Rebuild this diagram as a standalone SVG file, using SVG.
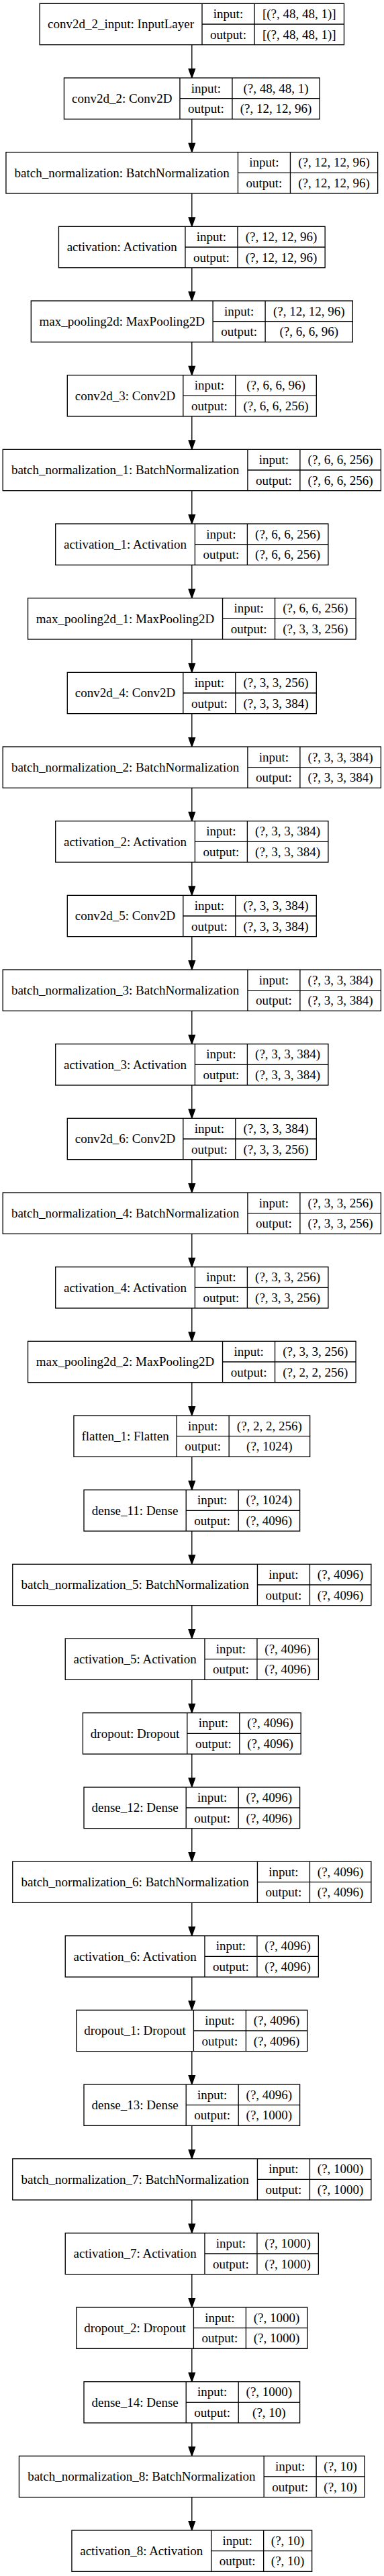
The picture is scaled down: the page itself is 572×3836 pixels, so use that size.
<svg xmlns="http://www.w3.org/2000/svg" width="572" height="3836" viewBox="0 0 572 3836">
<style>
.nd rect{fill:#fff;stroke:#000;stroke-width:1.33}
.nd path{fill:none;stroke:#000;stroke-width:1.33}
text{font-family:"Liberation Serif","Times New Roman",serif;font-size:19px;text-anchor:middle;fill:#000}
.e path{fill:none;stroke:#000;stroke-width:1.33}
</style>
<defs>
<marker id="ah" markerUnits="userSpaceOnUse" markerWidth="16" markerHeight="12" refX="0" refY="5" orient="auto" overflow="visible">
<path d="M0,0.33 L13.33,5 L0,9.67 z" fill="#000" stroke="#000" stroke-width="1.33"/>
</marker>
</defs>
<rect width="572" height="3836" fill="#fff"/>
<g id="edges" class="e">
<path d="M285.8,66.67V102.67" marker-end="url(#ah)"/>
<path d="M285.8,177.33V213.33" marker-end="url(#ah)"/>
<path d="M285.8,288V324" marker-end="url(#ah)"/>
<path d="M285.8,398.67V434.67" marker-end="url(#ah)"/>
<path d="M285.8,509.33V545.33" marker-end="url(#ah)"/>
<path d="M285.8,620V656" marker-end="url(#ah)"/>
<path d="M285.8,730.67V766.67" marker-end="url(#ah)"/>
<path d="M285.8,841.33V877.33" marker-end="url(#ah)"/>
<path d="M285.8,952V988" marker-end="url(#ah)"/>
<path d="M285.8,1062.67V1098.67" marker-end="url(#ah)"/>
<path d="M285.8,1173.33V1209.33" marker-end="url(#ah)"/>
<path d="M285.8,1284V1320" marker-end="url(#ah)"/>
<path d="M285.8,1394.67V1430.67" marker-end="url(#ah)"/>
<path d="M285.8,1505.33V1541.33" marker-end="url(#ah)"/>
<path d="M285.8,1616V1652" marker-end="url(#ah)"/>
<path d="M285.8,1726.67V1762.67" marker-end="url(#ah)"/>
<path d="M285.8,1837.33V1873.33" marker-end="url(#ah)"/>
<path d="M285.8,1948V1984" marker-end="url(#ah)"/>
<path d="M285.8,2058.67V2094.67" marker-end="url(#ah)"/>
<path d="M285.8,2169.33V2205.33" marker-end="url(#ah)"/>
<path d="M285.8,2280V2316" marker-end="url(#ah)"/>
<path d="M285.8,2390.67V2426.67" marker-end="url(#ah)"/>
<path d="M285.8,2501.33V2537.33" marker-end="url(#ah)"/>
<path d="M285.8,2612V2648" marker-end="url(#ah)"/>
<path d="M285.8,2722.67V2758.67" marker-end="url(#ah)"/>
<path d="M285.8,2833.33V2869.33" marker-end="url(#ah)"/>
<path d="M285.8,2944V2980" marker-end="url(#ah)"/>
<path d="M285.8,3054.67V3090.67" marker-end="url(#ah)"/>
<path d="M285.8,3165.33V3201.33" marker-end="url(#ah)"/>
<path d="M285.8,3276V3312" marker-end="url(#ah)"/>
<path d="M285.8,3386.67V3422.67" marker-end="url(#ah)"/>
<path d="M285.8,3497.33V3533.33" marker-end="url(#ah)"/>
<path d="M285.8,3608V3644" marker-end="url(#ah)"/>
<path d="M285.8,3718.67V3754.67" marker-end="url(#ah)"/>
</g>

<g id="conv2d_2_input" class="nd" transform="translate(0,5.33)">
<rect x="59.1" y="0" width="453.4" height="61.33"/>
<path d="M301,0V61.33M379,0V61.33M301,30.67H512.5"/>
<text x="180.05" y="37">conv2d_2_input: InputLayer</text>
<text x="340" y="21.6">input:</text><text x="340" y="52.3">output:</text>
<text x="445.75" y="21.6">[(?, 48, 48, 1)]</text><text x="445.75" y="52.3">[(?, 48, 48, 1)]</text>
</g>

<g id="conv2d_2" class="nd" transform="translate(0,116)">
<rect x="95.45" y="0" width="380.7" height="61.33"/>
<path d="M267.95,0V61.33M345.95,0V61.33M267.95,30.67H476.15"/>
<text x="181.7" y="37">conv2d_2: Conv2D</text>
<text x="306.95" y="21.6">input:</text><text x="306.95" y="52.3">output:</text>
<text x="411.05" y="21.6">(?, 48, 48, 1)</text><text x="411.05" y="52.3">(?, 12, 12, 96)</text>
</g>

<g id="batch_normalization" class="nd" transform="translate(0,226.67)">
<rect x="8.95" y="0" width="553.7" height="61.33"/>
<path d="M354.45,0V61.33M432.45,0V61.33M354.45,30.67H562.65"/>
<text x="181.7" y="37">batch_normalization: BatchNormalization</text>
<text x="393.45" y="21.6">input:</text><text x="393.45" y="52.3">output:</text>
<text x="497.55" y="21.6">(?, 12, 12, 96)</text><text x="497.55" y="52.3">(?, 12, 12, 96)</text>
</g>

<g id="activation" class="nd" transform="translate(0,337.33)">
<rect x="87.45" y="0" width="396.7" height="61.33"/>
<path d="M275.95,0V61.33M353.95,0V61.33M275.95,30.67H484.15"/>
<text x="181.7" y="37">activation: Activation</text>
<text x="314.95" y="21.6">input:</text><text x="314.95" y="52.3">output:</text>
<text x="419.05" y="21.6">(?, 12, 12, 96)</text><text x="419.05" y="52.3">(?, 12, 12, 96)</text>
</g>

<g id="max_pooling2d" class="nd" transform="translate(0,448)">
<rect x="46.3" y="0" width="479" height="61.33"/>
<path d="M317.1,0V61.33M395.1,0V61.33M317.1,30.67H525.3"/>
<text x="181.7" y="37">max_pooling2d: MaxPooling2D</text>
<text x="356.1" y="21.6">input:</text><text x="356.1" y="52.3">output:</text>
<text x="460.2" y="21.6">(?, 12, 12, 96)</text><text x="460.2" y="52.3">(?, 6, 6, 96)</text>
</g>

<g id="conv2d_3" class="nd" transform="translate(0,558.67)">
<rect x="100.3" y="0" width="371" height="61.33"/>
<path d="M272.8,0V61.33M350.8,0V61.33M272.8,30.67H471.3"/>
<text x="186.55" y="37">conv2d_3: Conv2D</text>
<text x="311.8" y="21.6">input:</text><text x="311.8" y="52.3">output:</text>
<text x="411.05" y="21.6">(?, 6, 6, 96)</text><text x="411.05" y="52.3">(?, 6, 6, 256)</text>
</g>

<g id="batch_normalization_1" class="nd" transform="translate(0,669.33)">
<rect x="4.2" y="0" width="563.2" height="61.33"/>
<path d="M368.9,0V61.33M446.9,0V61.33M368.9,30.67H567.4"/>
<text x="186.55" y="37">batch_normalization_1: BatchNormalization</text>
<text x="407.9" y="21.6">input:</text><text x="407.9" y="52.3">output:</text>
<text x="507.15" y="21.6">(?, 6, 6, 256)</text><text x="507.15" y="52.3">(?, 6, 6, 256)</text>
</g>

<g id="activation_1" class="nd" transform="translate(0,780)">
<rect x="82.7" y="0" width="406.2" height="61.33"/>
<path d="M290.4,0V61.33M368.4,0V61.33M290.4,30.67H488.9"/>
<text x="186.55" y="37">activation_1: Activation</text>
<text x="329.4" y="21.6">input:</text><text x="329.4" y="52.3">output:</text>
<text x="428.65" y="21.6">(?, 6, 6, 256)</text><text x="428.65" y="52.3">(?, 6, 6, 256)</text>
</g>

<g id="max_pooling2d_1" class="nd" transform="translate(0,890.67)">
<rect x="41.55" y="0" width="488.5" height="61.33"/>
<path d="M331.55,0V61.33M409.55,0V61.33M331.55,30.67H530.05"/>
<text x="186.55" y="37">max_pooling2d_1: MaxPooling2D</text>
<text x="370.55" y="21.6">input:</text><text x="370.55" y="52.3">output:</text>
<text x="469.8" y="21.6">(?, 6, 6, 256)</text><text x="469.8" y="52.3">(?, 3, 3, 256)</text>
</g>

<g id="conv2d_4" class="nd" transform="translate(0,1001.33)">
<rect x="100.3" y="0" width="371" height="61.33"/>
<path d="M272.8,0V61.33M350.8,0V61.33M272.8,30.67H471.3"/>
<text x="186.55" y="37">conv2d_4: Conv2D</text>
<text x="311.8" y="21.6">input:</text><text x="311.8" y="52.3">output:</text>
<text x="411.05" y="21.6">(?, 3, 3, 256)</text><text x="411.05" y="52.3">(?, 3, 3, 384)</text>
</g>

<g id="batch_normalization_2" class="nd" transform="translate(0,1112)">
<rect x="4.2" y="0" width="563.2" height="61.33"/>
<path d="M368.9,0V61.33M446.9,0V61.33M368.9,30.67H567.4"/>
<text x="186.55" y="37">batch_normalization_2: BatchNormalization</text>
<text x="407.9" y="21.6">input:</text><text x="407.9" y="52.3">output:</text>
<text x="507.15" y="21.6">(?, 3, 3, 384)</text><text x="507.15" y="52.3">(?, 3, 3, 384)</text>
</g>

<g id="activation_2" class="nd" transform="translate(0,1222.67)">
<rect x="82.7" y="0" width="406.2" height="61.33"/>
<path d="M290.4,0V61.33M368.4,0V61.33M290.4,30.67H488.9"/>
<text x="186.55" y="37">activation_2: Activation</text>
<text x="329.4" y="21.6">input:</text><text x="329.4" y="52.3">output:</text>
<text x="428.65" y="21.6">(?, 3, 3, 384)</text><text x="428.65" y="52.3">(?, 3, 3, 384)</text>
</g>

<g id="conv2d_5" class="nd" transform="translate(0,1333.33)">
<rect x="100.3" y="0" width="371" height="61.33"/>
<path d="M272.8,0V61.33M350.8,0V61.33M272.8,30.67H471.3"/>
<text x="186.55" y="37">conv2d_5: Conv2D</text>
<text x="311.8" y="21.6">input:</text><text x="311.8" y="52.3">output:</text>
<text x="411.05" y="21.6">(?, 3, 3, 384)</text><text x="411.05" y="52.3">(?, 3, 3, 384)</text>
</g>

<g id="batch_normalization_3" class="nd" transform="translate(0,1444)">
<rect x="4.2" y="0" width="563.2" height="61.33"/>
<path d="M368.9,0V61.33M446.9,0V61.33M368.9,30.67H567.4"/>
<text x="186.55" y="37">batch_normalization_3: BatchNormalization</text>
<text x="407.9" y="21.6">input:</text><text x="407.9" y="52.3">output:</text>
<text x="507.15" y="21.6">(?, 3, 3, 384)</text><text x="507.15" y="52.3">(?, 3, 3, 384)</text>
</g>

<g id="activation_3" class="nd" transform="translate(0,1554.67)">
<rect x="82.7" y="0" width="406.2" height="61.33"/>
<path d="M290.4,0V61.33M368.4,0V61.33M290.4,30.67H488.9"/>
<text x="186.55" y="37">activation_3: Activation</text>
<text x="329.4" y="21.6">input:</text><text x="329.4" y="52.3">output:</text>
<text x="428.65" y="21.6">(?, 3, 3, 384)</text><text x="428.65" y="52.3">(?, 3, 3, 384)</text>
</g>

<g id="conv2d_6" class="nd" transform="translate(0,1665.33)">
<rect x="100.3" y="0" width="371" height="61.33"/>
<path d="M272.8,0V61.33M350.8,0V61.33M272.8,30.67H471.3"/>
<text x="186.55" y="37">conv2d_6: Conv2D</text>
<text x="311.8" y="21.6">input:</text><text x="311.8" y="52.3">output:</text>
<text x="411.05" y="21.6">(?, 3, 3, 384)</text><text x="411.05" y="52.3">(?, 3, 3, 256)</text>
</g>

<g id="batch_normalization_4" class="nd" transform="translate(0,1776)">
<rect x="4.2" y="0" width="563.2" height="61.33"/>
<path d="M368.9,0V61.33M446.9,0V61.33M368.9,30.67H567.4"/>
<text x="186.55" y="37">batch_normalization_4: BatchNormalization</text>
<text x="407.9" y="21.6">input:</text><text x="407.9" y="52.3">output:</text>
<text x="507.15" y="21.6">(?, 3, 3, 256)</text><text x="507.15" y="52.3">(?, 3, 3, 256)</text>
</g>

<g id="activation_4" class="nd" transform="translate(0,1886.67)">
<rect x="82.7" y="0" width="406.2" height="61.33"/>
<path d="M290.4,0V61.33M368.4,0V61.33M290.4,30.67H488.9"/>
<text x="186.55" y="37">activation_4: Activation</text>
<text x="329.4" y="21.6">input:</text><text x="329.4" y="52.3">output:</text>
<text x="428.65" y="21.6">(?, 3, 3, 256)</text><text x="428.65" y="52.3">(?, 3, 3, 256)</text>
</g>

<g id="max_pooling2d_2" class="nd" transform="translate(0,1997.33)">
<rect x="41.55" y="0" width="488.5" height="61.33"/>
<path d="M331.55,0V61.33M409.55,0V61.33M331.55,30.67H530.05"/>
<text x="186.55" y="37">max_pooling2d_2: MaxPooling2D</text>
<text x="370.55" y="21.6">input:</text><text x="370.55" y="52.3">output:</text>
<text x="469.8" y="21.6">(?, 3, 3, 256)</text><text x="469.8" y="52.3">(?, 2, 2, 256)</text>
</g>

<g id="flatten_1" class="nd" transform="translate(0,2108)">
<rect x="109.95" y="0" width="351.7" height="61.33"/>
<path d="M263.15,0V61.33M341.15,0V61.33M263.15,30.67H461.65"/>
<text x="186.55" y="37">flatten_1: Flatten</text>
<text x="302.15" y="21.6">input:</text><text x="302.15" y="52.3">output:</text>
<text x="401.4" y="21.6">(?, 2, 2, 256)</text><text x="401.4" y="52.3">(?, 1024)</text>
</g>

<g id="dense_11" class="nd" transform="translate(0,2218.67)">
<rect x="125" y="0" width="321.6" height="61.33"/>
<path d="M277.2,0V61.33M355.2,0V61.33M277.2,30.67H446.6"/>
<text x="201.1" y="37">dense_11: Dense</text>
<text x="316.2" y="21.6">input:</text><text x="316.2" y="52.3">output:</text>
<text x="400.9" y="21.6">(?, 1024)</text><text x="400.9" y="52.3">(?, 4096)</text>
</g>

<g id="batch_normalization_5" class="nd" transform="translate(0,2329.33)">
<rect x="18.75" y="0" width="534.1" height="61.33"/>
<path d="M383.45,0V61.33M461.45,0V61.33M383.45,30.67H552.85"/>
<text x="201.1" y="37">batch_normalization_5: BatchNormalization</text>
<text x="422.45" y="21.6">input:</text><text x="422.45" y="52.3">output:</text>
<text x="507.15" y="21.6">(?, 4096)</text><text x="507.15" y="52.3">(?, 4096)</text>
</g>

<g id="activation_5" class="nd" transform="translate(0,2440)">
<rect x="97.25" y="0" width="377.1" height="61.33"/>
<path d="M304.95,0V61.33M382.95,0V61.33M304.95,30.67H474.35"/>
<text x="201.1" y="37">activation_5: Activation</text>
<text x="343.95" y="21.6">input:</text><text x="343.95" y="52.3">output:</text>
<text x="428.65" y="21.6">(?, 4096)</text><text x="428.65" y="52.3">(?, 4096)</text>
</g>

<g id="dropout" class="nd" transform="translate(0,2550.67)">
<rect x="123.4" y="0" width="324.8" height="61.33"/>
<path d="M278.8,0V61.33M356.8,0V61.33M278.8,30.67H448.2"/>
<text x="201.1" y="37">dropout: Dropout</text>
<text x="317.8" y="21.6">input:</text><text x="317.8" y="52.3">output:</text>
<text x="402.5" y="21.6">(?, 4096)</text><text x="402.5" y="52.3">(?, 4096)</text>
</g>

<g id="dense_12" class="nd" transform="translate(0,2661.33)">
<rect x="125" y="0" width="321.6" height="61.33"/>
<path d="M277.2,0V61.33M355.2,0V61.33M277.2,30.67H446.6"/>
<text x="201.1" y="37">dense_12: Dense</text>
<text x="316.2" y="21.6">input:</text><text x="316.2" y="52.3">output:</text>
<text x="400.9" y="21.6">(?, 4096)</text><text x="400.9" y="52.3">(?, 4096)</text>
</g>

<g id="batch_normalization_6" class="nd" transform="translate(0,2772)">
<rect x="18.75" y="0" width="534.1" height="61.33"/>
<path d="M383.45,0V61.33M461.45,0V61.33M383.45,30.67H552.85"/>
<text x="201.1" y="37">batch_normalization_6: BatchNormalization</text>
<text x="422.45" y="21.6">input:</text><text x="422.45" y="52.3">output:</text>
<text x="507.15" y="21.6">(?, 4096)</text><text x="507.15" y="52.3">(?, 4096)</text>
</g>

<g id="activation_6" class="nd" transform="translate(0,2882.67)">
<rect x="97.25" y="0" width="377.1" height="61.33"/>
<path d="M304.95,0V61.33M382.95,0V61.33M304.95,30.67H474.35"/>
<text x="201.1" y="37">activation_6: Activation</text>
<text x="343.95" y="21.6">input:</text><text x="343.95" y="52.3">output:</text>
<text x="428.65" y="21.6">(?, 4096)</text><text x="428.65" y="52.3">(?, 4096)</text>
</g>

<g id="dropout_1" class="nd" transform="translate(0,2993.33)">
<rect x="113.8" y="0" width="344" height="61.33"/>
<path d="M288.4,0V61.33M366.4,0V61.33M288.4,30.67H457.8"/>
<text x="201.1" y="37">dropout_1: Dropout</text>
<text x="327.4" y="21.6">input:</text><text x="327.4" y="52.3">output:</text>
<text x="412.1" y="21.6">(?, 4096)</text><text x="412.1" y="52.3">(?, 4096)</text>
</g>

<g id="dense_13" class="nd" transform="translate(0,3104)">
<rect x="125" y="0" width="321.6" height="61.33"/>
<path d="M277.2,0V61.33M355.2,0V61.33M277.2,30.67H446.6"/>
<text x="201.1" y="37">dense_13: Dense</text>
<text x="316.2" y="21.6">input:</text><text x="316.2" y="52.3">output:</text>
<text x="400.9" y="21.6">(?, 4096)</text><text x="400.9" y="52.3">(?, 1000)</text>
</g>

<g id="batch_normalization_7" class="nd" transform="translate(0,3214.67)">
<rect x="18.75" y="0" width="534.1" height="61.33"/>
<path d="M383.45,0V61.33M461.45,0V61.33M383.45,30.67H552.85"/>
<text x="201.1" y="37">batch_normalization_7: BatchNormalization</text>
<text x="422.45" y="21.6">input:</text><text x="422.45" y="52.3">output:</text>
<text x="507.15" y="21.6">(?, 1000)</text><text x="507.15" y="52.3">(?, 1000)</text>
</g>

<g id="activation_7" class="nd" transform="translate(0,3325.33)">
<rect x="97.25" y="0" width="377.1" height="61.33"/>
<path d="M304.95,0V61.33M382.95,0V61.33M304.95,30.67H474.35"/>
<text x="201.1" y="37">activation_7: Activation</text>
<text x="343.95" y="21.6">input:</text><text x="343.95" y="52.3">output:</text>
<text x="428.65" y="21.6">(?, 1000)</text><text x="428.65" y="52.3">(?, 1000)</text>
</g>

<g id="dropout_2" class="nd" transform="translate(0,3436)">
<rect x="113.8" y="0" width="344" height="61.33"/>
<path d="M288.4,0V61.33M366.4,0V61.33M288.4,30.67H457.8"/>
<text x="201.1" y="37">dropout_2: Dropout</text>
<text x="327.4" y="21.6">input:</text><text x="327.4" y="52.3">output:</text>
<text x="412.1" y="21.6">(?, 1000)</text><text x="412.1" y="52.3">(?, 1000)</text>
</g>

<g id="dense_14" class="nd" transform="translate(0,3546.67)">
<rect x="125" y="0" width="321.6" height="61.33"/>
<path d="M277.2,0V61.33M355.2,0V61.33M277.2,30.67H446.6"/>
<text x="201.1" y="37">dense_14: Dense</text>
<text x="316.2" y="21.6">input:</text><text x="316.2" y="52.3">output:</text>
<text x="400.9" y="21.6">(?, 1000)</text><text x="400.9" y="52.3">(?, 10)</text>
</g>

<g id="batch_normalization_8" class="nd" transform="translate(0,3657.33)">
<rect x="28.45" y="0" width="514.7" height="61.33"/>
<path d="M393.15,0V61.33M471.15,0V61.33M393.15,30.67H543.15"/>
<text x="210.8" y="37">batch_normalization_8: BatchNormalization</text>
<text x="432.15" y="21.6">input:</text><text x="432.15" y="52.3">output:</text>
<text x="507.15" y="21.6">(?, 10)</text><text x="507.15" y="52.3">(?, 10)</text>
</g>

<g id="activation_8" class="nd" transform="translate(0,3768)">
<rect x="106.95" y="0" width="357.7" height="61.33"/>
<path d="M314.65,0V61.33M392.65,0V61.33M314.65,30.67H464.65"/>
<text x="210.8" y="37">activation_8: Activation</text>
<text x="353.65" y="21.6">input:</text><text x="353.65" y="52.3">output:</text>
<text x="428.65" y="21.6">(?, 10)</text><text x="428.65" y="52.3">(?, 10)</text>
</g>
</svg>
